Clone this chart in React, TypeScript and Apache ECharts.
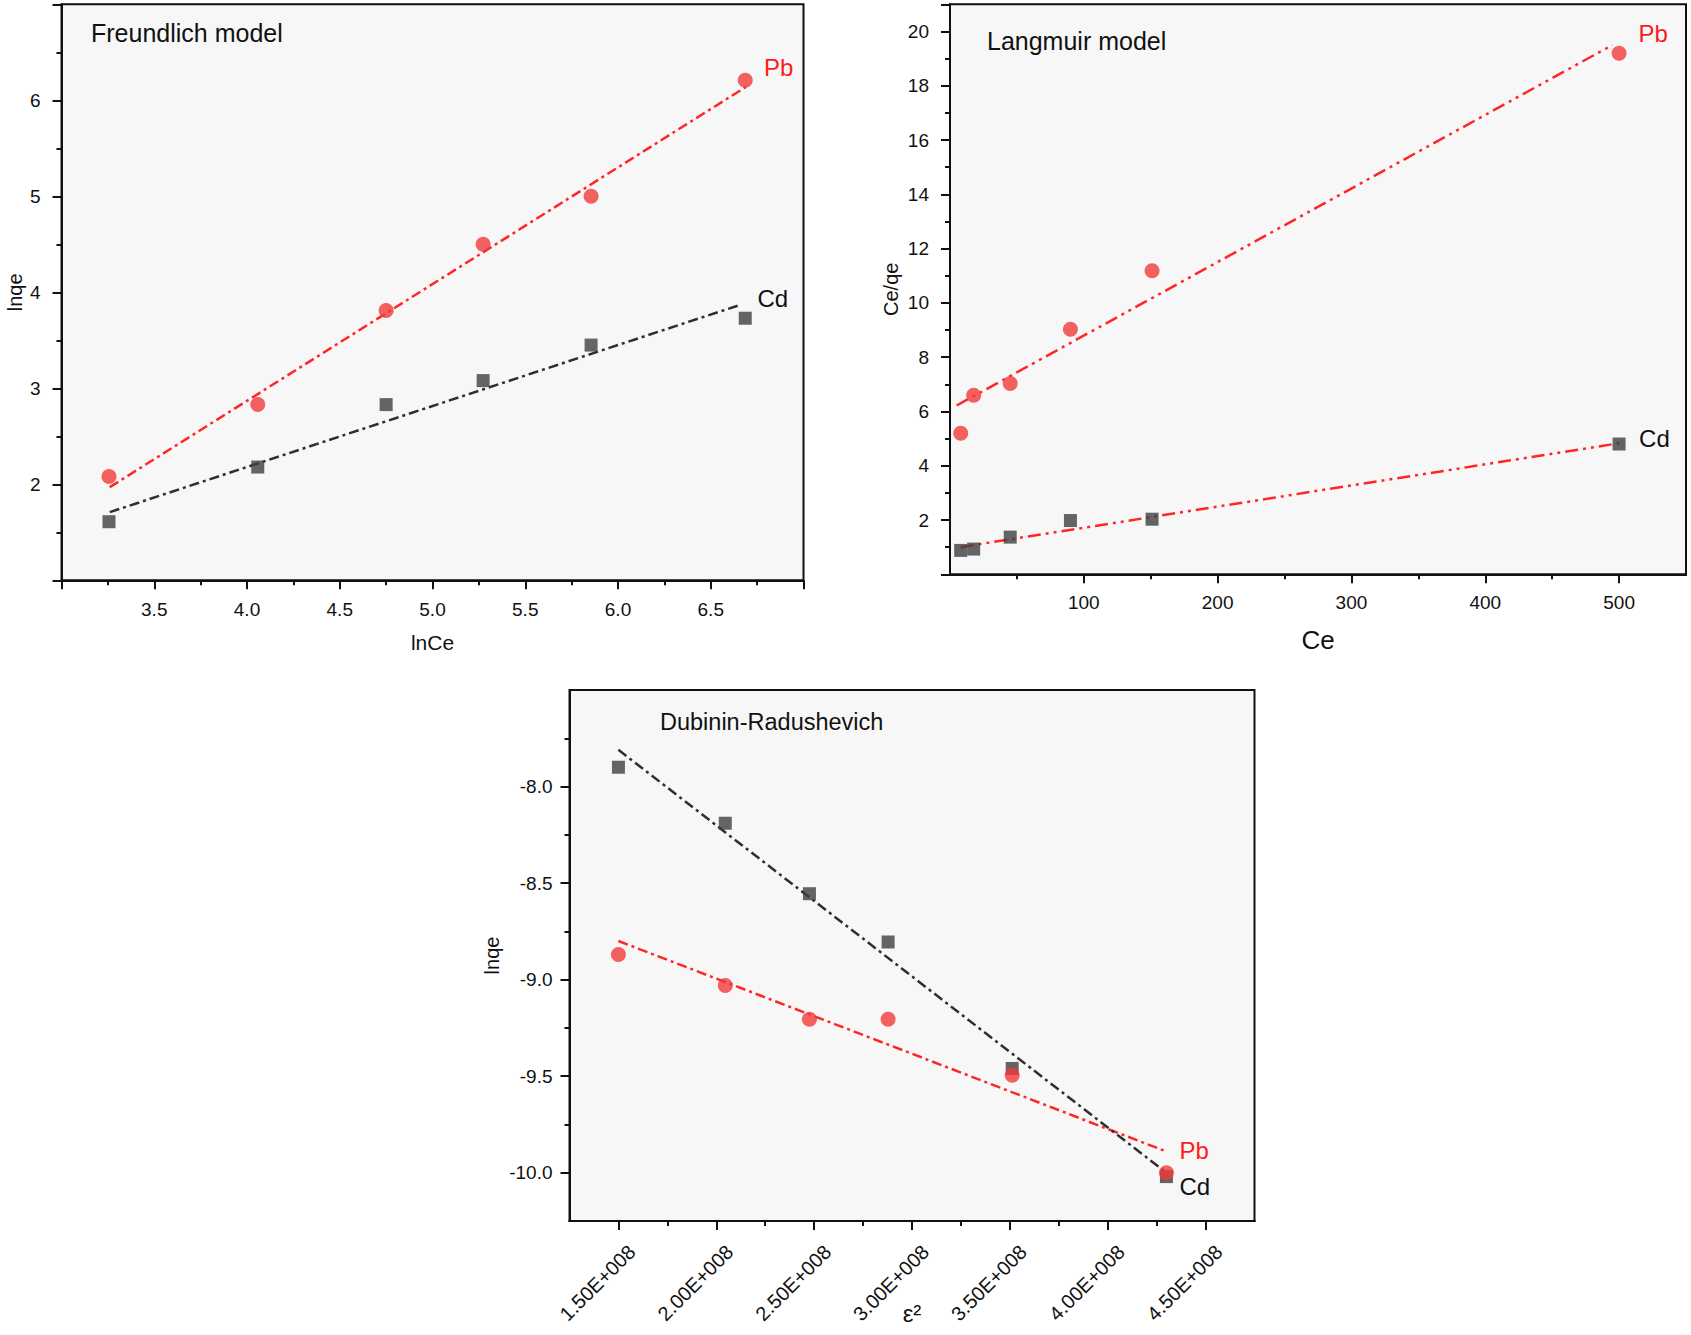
import React, { useEffect, useRef } from "react";
import * as echarts from "echarts";

// ---------- Freundlich model ----------
const FR_X = [3.256, 4.058, 4.75, 5.273, 5.855, 6.686];
const FR_PB = [2.08, 2.83, 3.81, 4.5, 5.0, 6.21];
const FR_CD = [1.61, 2.18, 2.83, 3.08, 3.45, 3.73];
const FR_PB_FIT = [[3.26, 1.97], [6.69, 6.14]];
const FR_CD_FIT = [[3.26, 1.71], [6.66, 3.87]];

// ---------- Langmuir model ----------
const LG_X = [8, 17.7, 45, 90, 151, 500];
const LG_PB = [5.2, 6.6, 7.03, 9.03, 11.18, 19.2];
const LG_CD = [0.88, 0.93, 1.37, 1.98, 2.03, 4.8];
const LG_PB_FIT = [[5, 6.22], [495, 19.5]];
const LG_CD_FIT = [[8, 1.0], [500, 4.83]];
const LG_X_MAJOR = [100, 200, 300, 400, 500];
const LG_X_MINOR = [50, 150, 250, 350, 450];

// ---------- Dubinin-Radushevich ----------
const DR_X = [1.5e8, 2.046e8, 2.476e8, 2.878e8, 3.512e8, 4.3e8];
const DR_CD = [-7.9, -8.19, -8.555, -8.805, -9.46, -10.02];
const DR_PB = [-8.87, -9.03, -9.205, -9.205, -9.495, -10.0];
const DR_CD_FIT = [[1.5e8, -7.81], [4.3e8, -10.0]];
const DR_PB_FIT = [[1.5e8, -8.8], [4.3e8, -9.89]];
const DR_X_MAJOR = [1.5e8, 2.0e8, 2.5e8, 3.0e8, 3.5e8, 4.0e8, 4.5e8];
const DR_X_MINOR = [1.75e8, 2.25e8, 2.75e8, 3.25e8, 3.75e8, 4.25e8];
const DR_Y_MAJOR = [-10.0, -9.5, -9.0, -8.5, -8.0];
const DR_Y_MINOR = [-9.75, -9.25, -8.75, -8.25, -7.75];

const FONT = "Liberation Sans, Arial, sans-serif";
const RED_PT = "#f03a3a";
const RED_LINE = "#ff2626";
const SQ = "#3f3f3f";
const BLACK_LINE = "#2e2e2e";
const AXIS_COLOR = "#111";

const zip = (xs: number[], ys: number[]) => xs.map((x, i) => [x, ys[i]]);

export default function App() {
  const ref = useRef<HTMLDivElement>(null);

  useEffect(() => {
    document.body.style.margin = "0";
    const chart = echarts.init(ref.current!, undefined, { renderer: "svg" });

    const axisLine = { show: true, onZero: false, lineStyle: { color: AXIS_COLOR, width: 2 } };
    const labelStyle = { fontFamily: FONT, fontSize: 19, color: "#111" };
    const nameStyle = (size: number) => ({ fontFamily: FONT, fontSize: size, color: "#111" });
    const tickLine = { color: AXIS_COLOR, width: 2 };

    const grids = [
      { left: 61.5, top: 4.3, width: 742, height: 576 },
      { left: 950, top: 4.3, width: 736, height: 570 },
      { left: 569.5, top: 690, width: 685, height: 531 },
    ].map((g) => ({
      ...g,
      show: true,
      backgroundColor: "#f7f7f7",
      borderColor: AXIS_COLOR,
      borderWidth: 2,
      containLabel: false,
      outerBoundsMode: "none",
    }));

    const xAxis: any[] = [
      // 0: Freundlich x
      {
        type: "value", gridIndex: 0, position: "bottom", min: 3, max: 7, interval: 0.5,
        axisLine, splitLine: { show: false },
        axisTick: { show: true, length: 9, lineStyle: tickLine },
        minorTick: { show: true, splitNumber: 2, length: 5, lineStyle: tickLine },
        axisLabel: { ...labelStyle, margin: 20, showMinLabel: false, showMaxLabel: false,
          formatter: (v: number) => v.toFixed(1) },
        name: "lnCe", nameLocation: "middle", nameGap: 52, nameMoveOverlap: false, nameTextStyle: nameStyle(21),
      },
      // 1: Langmuir x (major)
      {
        type: "value", gridIndex: 1, position: "bottom", min: 0, max: 550,
        axisLine, splitLine: { show: false },
        axisTick: { show: true, length: 9, customValues: LG_X_MAJOR, lineStyle: tickLine },
        axisLabel: { ...labelStyle, margin: 19, customValues: LG_X_MAJOR, formatter: (v: number) => String(v) },
        name: "Ce", nameLocation: "middle", nameGap: 53, nameMoveOverlap: false, nameTextStyle: nameStyle(26),
      },
      // 2: Langmuir x (minor)
      {
        type: "value", gridIndex: 1, position: "bottom", offset: 0, min: 0, max: 550,
        axisLine, splitLine: { show: false },
        axisTick: { show: true, length: 5, customValues: LG_X_MINOR, lineStyle: tickLine },
        axisLabel: { show: false },
      },
      // 3: D-R x (major)
      {
        type: "value", gridIndex: 2, position: "bottom", min: 1.25e8, max: 4.75e8,
        axisLine, splitLine: { show: false },
        axisTick: { show: true, length: 9, customValues: DR_X_MAJOR, lineStyle: tickLine },
        axisLabel: { ...labelStyle, fontSize: 20, margin: 14, rotate: 45, verticalAlign: "top", lineHeight: 38,
          customValues: DR_X_MAJOR,
          formatter: (v: number) => (v / 1e8).toFixed(2) + "E+008" },
        name: "ε²", nameLocation: "middle", nameGap: 80, nameMoveOverlap: false, nameTextStyle: nameStyle(24),
      },
      // 4: D-R x (minor)
      {
        type: "value", gridIndex: 2, position: "bottom", offset: 0, min: 1.25e8, max: 4.75e8,
        axisLine, splitLine: { show: false },
        axisTick: { show: true, length: 5, customValues: DR_X_MINOR, lineStyle: tickLine },
        axisLabel: { show: false },
      },
    ];

    const yAxis: any[] = [
      // 0: Freundlich y
      {
        type: "value", gridIndex: 0, position: "left", min: 1, max: 7, interval: 1,
        axisLine, splitLine: { show: false },
        axisTick: { show: true, length: 9, lineStyle: tickLine },
        minorTick: { show: true, splitNumber: 2, length: 5, lineStyle: tickLine },
        axisLabel: { ...labelStyle, margin: 21, showMinLabel: false, showMaxLabel: false },
        name: "lnqe", nameLocation: "middle", nameGap: 37, nameMoveOverlap: false, nameTextStyle: nameStyle(20),
      },
      // 1: Langmuir y
      {
        type: "value", gridIndex: 1, position: "left", min: 0, max: 21, interval: 2,
        axisLine, splitLine: { show: false },
        axisTick: { show: true, length: 9, lineStyle: tickLine },
        minorTick: { show: true, splitNumber: 2, length: 5, lineStyle: tickLine },
        axisLabel: { ...labelStyle, margin: 21, showMinLabel: false, showMaxLabel: false },
        name: "Ce/qe", nameLocation: "middle", nameGap: 49, nameMoveOverlap: false, nameTextStyle: nameStyle(20),
      },
      // 2: D-R y (major)
      {
        type: "value", gridIndex: 2, position: "left", min: -10.25, max: -7.5,
        axisLine, splitLine: { show: false },
        axisTick: { show: true, length: 9, customValues: DR_Y_MAJOR, lineStyle: tickLine },
        axisLabel: { ...labelStyle, margin: 17, customValues: DR_Y_MAJOR, formatter: (v: number) => v.toFixed(1) },
        name: "lnqe", nameLocation: "middle", nameGap: 68, nameMoveOverlap: false, nameTextStyle: nameStyle(20),
      },
      // 3: D-R y (minor)
      {
        type: "value", gridIndex: 2, position: "left", offset: 0, min: -10.25, max: -7.5,
        axisLine, splitLine: { show: false },
        axisTick: { show: true, length: 5, customValues: DR_Y_MINOR, lineStyle: tickLine },
        axisLabel: { show: false },
      },
    ];

    const fit = (data: number[][], xi: number, yi: number, color: string, dash: number[], label: string, lblColor: string, offset: number[]) => ({
      type: "line", xAxisIndex: xi, yAxisIndex: yi, data, symbol: "none", silent: true,
      lineStyle: { color, width: 2.5, type: dash },
      endLabel: { show: true, formatter: label, color: lblColor, fontFamily: FONT, fontSize: 24, distance: 0, offset },
      z: 2,
    });
    const pts = (xs: number[], ys: number[], xi: number, yi: number, kind: "circle" | "rect") => ({
      type: "scatter", xAxisIndex: xi, yAxisIndex: yi, data: zip(xs, ys),
      symbol: kind, symbolSize: kind === "circle" ? 15 : 13,
      itemStyle: { color: kind === "circle" ? RED_PT : SQ },
      z: kind === "circle" ? 4 : 3,
    });

    const DASH_DOT = [10, 4, 3, 4];
    const DASH_DOT_DOT = [13, 5, 3, 5, 3, 5];

    const series: any[] = [
      fit(FR_PB_FIT, 0, 0, RED_LINE, DASH_DOT, "Pb", "#ff1a1a", [18, -19]),
      fit(FR_CD_FIT, 0, 0, BLACK_LINE, DASH_DOT, "Cd", "#111", [17, -6]),
      pts(FR_X, FR_CD, 0, 0, "rect"),
      pts(FR_X, FR_PB, 0, 0, "circle"),

      fit(LG_PB_FIT, 1, 1, RED_LINE, DASH_DOT_DOT, "Pb", "#ff1a1a", [26, -12]),
      fit(LG_CD_FIT, 1, 1, RED_LINE, DASH_DOT_DOT, "Cd", "#111", [20, -5]),
      pts(LG_X, LG_CD, 1, 1, "rect"),
      pts(LG_X, LG_PB, 1, 1, "circle"),

      fit(DR_PB_FIT, 3, 2, RED_LINE, DASH_DOT, "Pb", "#ff1a1a", [13, -1]),
      fit(DR_CD_FIT, 3, 2, BLACK_LINE, DASH_DOT, "Cd", "#111", [13, 14]),
      pts(DR_X, DR_CD, 3, 2, "rect"),
      pts(DR_X, DR_PB, 3, 2, "circle"),
    ];

    const titleStyle = (size: number) => ({ fontFamily: FONT, fontSize: size, fontWeight: "normal", color: "#111" });

    chart.setOption({
      animation: false,
      backgroundColor: "#ffffff",
      title: [
        { text: "Freundlich model", left: 91, top: 20, textStyle: titleStyle(25), padding: 0 },
        { text: "Langmuir model", left: 987, top: 28, textStyle: titleStyle(25), padding: 0 },
        { text: "Dubinin-Radushevich", left: 660, top: 710, textStyle: titleStyle(23.5), padding: 0 },
      ],
      grid: grids,
      xAxis,
      yAxis,
      series,
    });

    return () => chart.dispose();
  }, []);

  return <div ref={ref} style={{ width: 1691, height: 1335 }} />;
}
